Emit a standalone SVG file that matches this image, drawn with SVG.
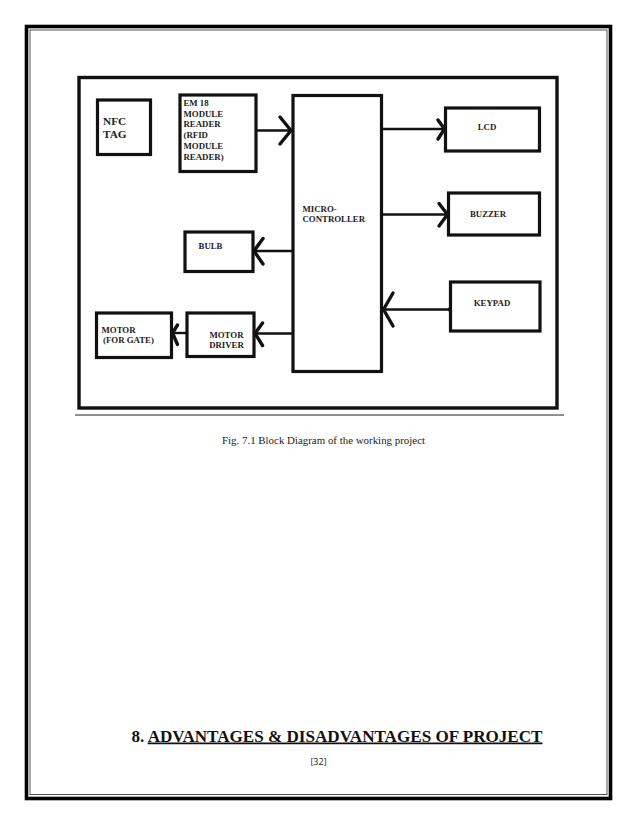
<svg xmlns="http://www.w3.org/2000/svg" width="638" height="826" viewBox="0 0 638 826">
<style>
.box{fill:#fff;stroke:#111;stroke-width:3.2}
.lbl{font-family:"Liberation Serif","Times New Roman",serif;font-weight:bold;font-size:8.8px;fill:#222}
.big{font-size:11.3px}
.ln{fill:none;stroke:#111;stroke-width:2.4}
.hd{fill:none;stroke:#111;stroke-width:3.4;stroke-linecap:round;stroke-linejoin:round}
</style>
<rect width="638" height="826" fill="#fff"/>
<g id="page-border">
<rect x="26.5" y="26.5" width="584" height="772" fill="none" stroke="#000" stroke-width="3.6"/>
<rect x="30" y="30" width="577" height="764.5" fill="none" stroke="#555" stroke-width="1"/>
</g>
<g id="frame">
<rect x="79" y="77.5" width="478" height="330.5" fill="none" stroke="#111" stroke-width="3.4"/>
<line x1="75" y1="415" x2="564" y2="415" stroke="#222" stroke-width="1.2"/>
</g>
<g id="connectors">
<line class="ln" x1="256" y1="130.5" x2="292" y2="130.5"/>
<path class="hd" d="M280 117 L291 130.5 L280 144"/>
<line class="ln" x1="382" y1="129" x2="444" y2="129"/>
<path class="hd" d="M438 120 L444.5 129 L438 139"/>
<line class="ln" x1="382" y1="214.5" x2="447" y2="214.5"/>
<path class="hd" d="M439 203.5 L447.5 214.5 L439 226"/>
<line class="ln" x1="254" y1="251" x2="293" y2="251"/>
<path class="hd" d="M263 238.5 L254 251 L263 264"/>
<line class="ln" x1="255" y1="333.5" x2="293" y2="333.5"/>
<path class="hd" d="M262.5 323 L255 333.5 L262.5 345.5"/>
<line class="ln" x1="172" y1="333" x2="187" y2="333"/>
<path class="hd" d="M177.5 325 L172.5 333 L177.5 344.5"/>
<line class="ln" x1="383" y1="309.5" x2="450" y2="309.5"/>
<path class="hd" d="M393 293 L383.5 309.5 L393 326"/>
<circle cx="450" cy="309.5" r="2.2" fill="#111"/>
</g>
<g id="nfc-tag">
<rect class="box" x="97.5" y="100" width="53" height="54.5"/>
<text class="lbl big" x="103" y="125">NFC</text>
<text class="lbl big" x="103" y="137.5">TAG</text>
</g>
<g id="em18-reader">
<rect class="box" x="180" y="95" width="76" height="76.5"/>
<text class="lbl" x="183.5" y="106">EM 18</text>
<text class="lbl" x="183.5" y="116.7">MODULE</text>
<text class="lbl" x="183.5" y="127.3">READER</text>
<text class="lbl" x="183.5" y="138.2">(RFID</text>
<text class="lbl" x="183.5" y="149">MODULE</text>
<text class="lbl" x="183.5" y="159.5">READER)</text>
</g>
<g id="microcontroller">
<rect class="box" x="293" y="95.5" width="88.5" height="276"/>
<text class="lbl" x="302.5" y="211.5">MICRO-</text>
<text class="lbl" x="302.5" y="222.3">CONTROLLER</text>
</g>
<g id="lcd">
<rect class="box" x="445.5" y="108" width="94" height="43"/>
<text class="lbl" x="487" y="130" text-anchor="middle">LCD</text>
</g>
<g id="buzzer">
<rect class="box" x="448.5" y="193" width="91" height="42"/>
<text class="lbl" x="488" y="216.5" text-anchor="middle">BUZZER</text>
</g>
<g id="bulb">
<rect class="box" x="185" y="232" width="68" height="39.5"/>
<text class="lbl" x="210.5" y="249" text-anchor="middle">BULB</text>
</g>
<g id="keypad">
<rect class="box" x="450.5" y="282" width="89.5" height="49"/>
<text class="lbl" x="492" y="306" text-anchor="middle">KEYPAD</text>
</g>
<g id="motor-driver">
<rect class="box" x="187" y="313" width="67" height="43.5"/>
<text class="lbl" x="226.5" y="337.5" text-anchor="middle">MOTOR</text>
<text class="lbl" x="226.5" y="348" text-anchor="middle">DRIVER</text>
</g>
<g id="motor-gate">
<rect class="box" x="96.5" y="313" width="75" height="44.5"/>
<text class="lbl" x="101.5" y="332.7">MOTOR</text>
<text class="lbl" x="103" y="343">(FOR GATE)</text>
</g>
<text x="222" y="444" font-family="Liberation Serif,'Times New Roman',serif" font-size="9.8" fill="#222" textLength="203" lengthAdjust="spacingAndGlyphs">Fig. 7.1 Block Diagram of the working project</text>
<text x="131.5" y="741.5" font-family="Liberation Serif,'Times New Roman',serif" font-weight="bold" font-size="17.5" fill="#111" textLength="411" lengthAdjust="spacingAndGlyphs">8. <tspan text-decoration="underline">ADVANTAGES &amp; DISADVANTAGES OF PROJECT</tspan></text>
<text x="318.5" y="765" font-family="'Open Sans','Liberation Sans',sans-serif" font-size="9" fill="#222" text-anchor="middle">[32]</text>
</svg>
